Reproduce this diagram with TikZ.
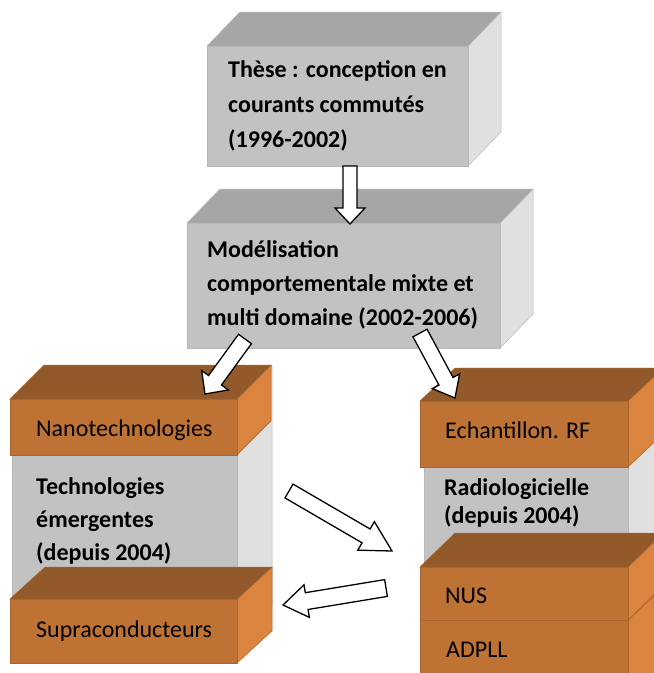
\documentclass[tikz,border=0pt]{standalone}
\usepackage{fontspec}
\setmainfont{Carlito}
\usetikzlibrary{calc}
\definecolor{gF}{HTML}{C2C2C2}
\definecolor{gT}{HTML}{A6A6A6}
\definecolor{gS}{HTML}{E0E0E0}
\definecolor{gE}{HTML}{B8B8B8}
\definecolor{oF}{HTML}{BE7234}
\definecolor{oT}{HTML}{925A2A}
\definecolor{oS}{HTML}{DA843F}
\definecolor{oE}{HTML}{A8652D}
\newcommand{\cuboid}[8]{%
 \filldraw[fill=#7S,draw=#8,line width=0.5pt] (#3,#2) -- (#3+#5,#2-#6) -- (#3+#5,#4-#6) -- (#3,#4) -- cycle;
 \filldraw[fill=#7T,draw=#8,line width=0.5pt] (#1,#2) -- (#1+#5,#2-#6) -- (#3+#5,#2-#6) -- (#3,#2) -- cycle;
 \filldraw[fill=#7F,draw=#8,line width=0.5pt] (#1,#2) rectangle (#3,#4);}
\newcommand{\blockarrow}[5]{%
 \coordinate (ba-h) at ($(#2)!#5pt!(#1)$);
 \draw[blkarrow] ($(#1)!#3pt!90:(#2)$) -- ($(ba-h)!#3pt!90:(#2)$) -- ($(ba-h)!#4pt!90:(#2)$) -- (#2)
   -- ($(ba-h)!#4pt!-90:(#2)$) -- ($(ba-h)!#3pt!-90:(#2)$) -- ($(#1)!#3pt!-90:(#2)$) -- cycle;}
\tikzset{
 blkarrow/.style={draw=black,fill=white,line width=1.3pt,line join=miter},
 boldtxt/.style={font=\fontsize{24}{35}\selectfont\bfseries,align=left,inner sep=0pt,anchor=base west},
 regtxt/.style={font=\fontsize{24}{34}\selectfont,align=left,inner sep=0pt,anchor=base west},
}
\begin{document}
\begin{tikzpicture}[x=1pt,y=-1pt]
\useasboundingbox (0,0) rectangle (654,673);
\clip (0,0) rectangle (654,673);
% top boxes
\cuboid{207}{46}{468}{166}{33}{34}{g}{gE}
\cuboid{187}{223}{500}{348}{33}{34}{g}{gE}
% left column
\cuboid{12}{400}{237}{640}{35}{34}{g}{gE}
\cuboid{10}{399}{237}{455}{34}{34}{o}{oE}
\cuboid{10}{599}{237}{663}{35}{32}{o}{oE}
% right column
\cuboid{424}{401}{628}{600}{35}{33}{g}{gE}
\cuboid{420}{620}{628}{700}{35}{33}{o}{oE}
\cuboid{420}{567}{628}{620}{35}{34}{o}{oE}
\cuboid{420}{401}{628}{467}{35}{33}{o}{oE}
% texts (base anchor = last line)
\node[boldtxt] (these) at (228,147) {Thèse : conception en\\courants commutés\\(1996-2002)};
\node[boldtxt,font=\fontsize{24}{34}\selectfont\bfseries] (model) at (207,325) {Modélisation\\comportementale mixte et\\multi domaine (2002-2006)};
\node[regtxt] (nano) at (36,436) {Nanotechnologies};
\node[boldtxt,font=\fontsize{24}{33}\selectfont\bfseries] (tech) at (36,560) {Technologies\\émergentes\\(depuis 2004)};
\node[regtxt] (supra) at (36,637) {Supraconducteurs};
\node[regtxt] (echant) at (445,438) {Echantillon. RF};
\node[boldtxt,font=\fontsize{24}{28}\selectfont\bfseries] (radio) at (444,523) {Radiologicielle\\(depuis 2004)};
\node[regtxt] (nus) at (445,603) {NUS};
\node[regtxt] (adpll) at (446,657) {ADPLL};
% arrows
\coordinate (a1s) at (350,166); \coordinate (a1e) at (350,224);
\coordinate (a2s) at (245,339); \coordinate (a2e) at (205,394);
\coordinate (a3s) at (420,333); \coordinate (a3e) at (455,398);
\coordinate (a4s) at (289,491); \coordinate (a4e) at (392,551);
\coordinate (a5s) at (386,588); \coordinate (a5e) at (283,605);
\blockarrow{a1s}{a1e}{7}{15}{16}
\blockarrow{a2s}{a2e}{8}{16.5}{17}
\blockarrow{a3s}{a3e}{8}{15.5}{19}
\blockarrow{a4s}{a4e}{8}{16.5}{30}
\blockarrow{a5s}{a5e}{8.5}{16.5}{24}
\end{tikzpicture}
\end{document}
